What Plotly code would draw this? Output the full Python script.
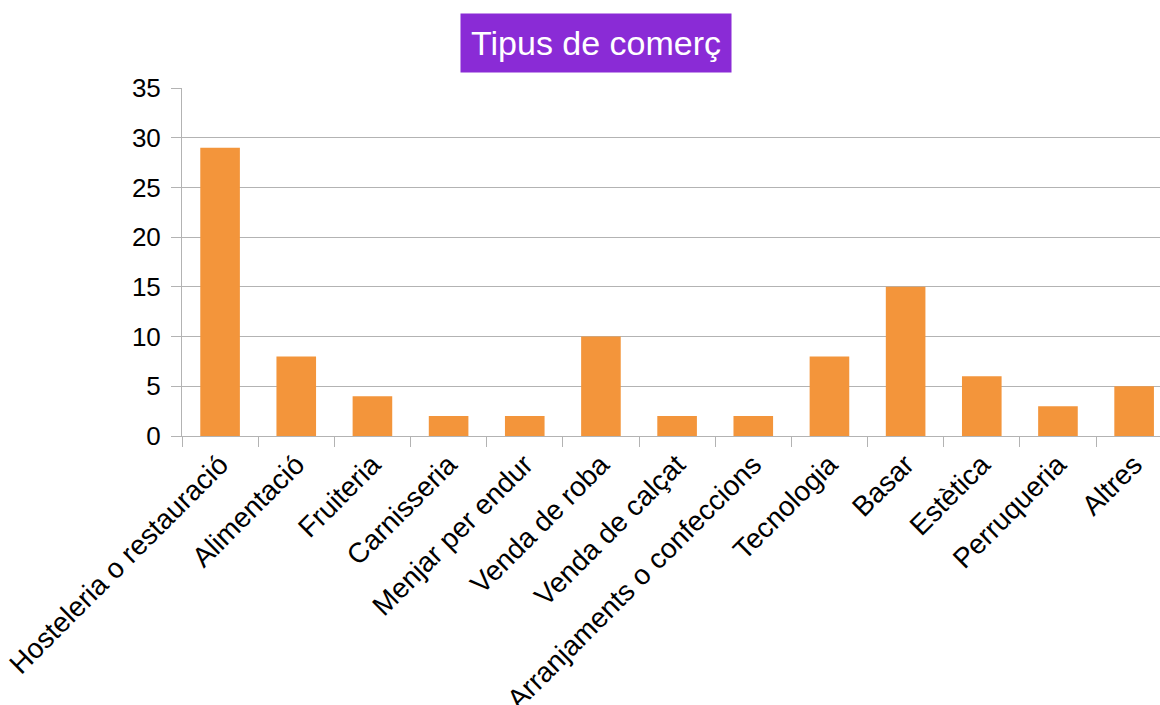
import plotly.graph_objects as go

categories = ["Hosteleria o restauració", "Alimentació", "Fruiteria", "Carnisseria",
              "Menjar per endur", "Venda de roba", "Venda de calçat",
              "Arranjaments o confeccions", "Tecnologia", "Basar", "Estètica",
              "Perruqueria", "Altres"]
values = [29, 8, 4, 2, 2, 10, 2, 2, 8, 15, 6, 3, 5]
title_text = "Tipus de comerç"

W, H = 1160, 705
L, T, B = 182, 88, 269
plot_w = W - L
cat_px = 76.17  # pixel width of one category in the reference (plot extends past right edge)

fig = go.Figure()
fig.add_trace(go.Bar(x=categories, y=values, marker=dict(color="#F3953B", line=dict(width=0))))

fig.update_layout(
    width=W, height=H,
    margin=dict(l=L, r=0, t=T, b=B),
    paper_bgcolor="white", plot_bgcolor="white",
    font=dict(family="Liberation Sans, Arial, sans-serif", color="black", size=24),
    bargap=0.48,
    showlegend=False,
)
fig.update_xaxes(
    range=[-0.5, -0.5 + plot_w / cat_px],
    tickangle=-45, tickson="boundaries", ticks="outside", ticklen=10,
    tickcolor="#b3b3b3", showline=True, linecolor="#b3b3b3", linewidth=1,
    showgrid=False, tickfont=dict(size=28), automargin=False,
)
fig.update_yaxes(
    range=[0, 35], dtick=5, ticks="outside", ticklen=10, tickcolor="#b3b3b3",
    showline=True, linecolor="#b3b3b3", linewidth=1,
    gridcolor="#b3b3b3", gridwidth=1, zeroline=False, tickfont=dict(size=26),
    automargin=False, ticklabelstandoff=5,
)
fig.add_annotation(
    text=title_text, xref="paper", yref="paper", x=(596 - L) / plot_w, y=1 + 45 / (H - T - B),
    xanchor="center", yanchor="middle", showarrow=False,
    font=dict(family="Liberation Sans, Arial, sans-serif", size=34, color="white"),
    bgcolor="#8A2BD6", borderpad=10,
)
fig.write_html(
    "out.html",
    config={"displayModeBar": False},
    post_script="document.body.style.margin='0';document.body.style.overflow='hidden';",
)
